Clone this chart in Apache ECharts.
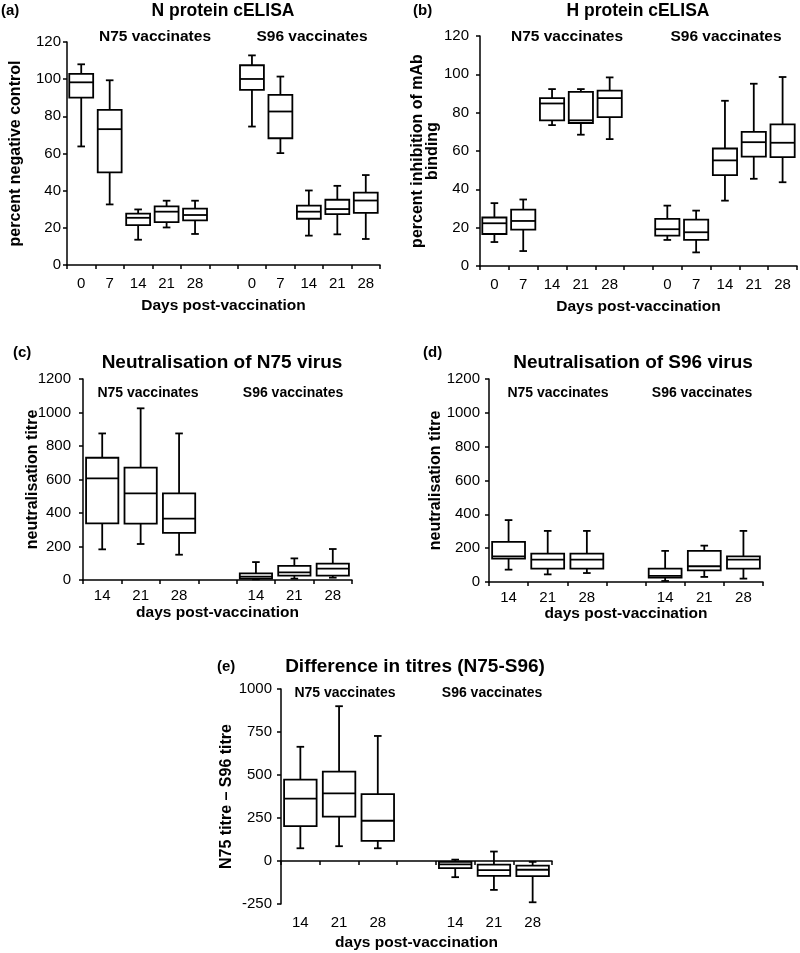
<!DOCTYPE html>
<html>
<head>
<meta charset="utf-8">
<script src="https://cdn.jsdelivr.net/npm/echarts@6/dist/echarts.min.js"></script>
<style>
html,body{margin:0;padding:0;background:#fff;}
#chart{width:800px;height:953px;}
</style>
</head>
<body>
<div id="chart"></div>
<script>
// ---- categories / tick labels ----
const daysELISA = ['0', '7', '14', '21', '28'];
const daysNeut = ['14', '21', '28'];
const groups = ['N75 vaccinates', 'S96 vaccinates'];

// ---- box values: [min, Q1, median, Q3, max] per day ----
// (a) N protein cELISA (percent negative control)
const aN75 = [[63.8, 90.1, 98.3, 102.8, 108.0], [32.6, 49.8, 73.1, 83.5, 99.4], [13.6, 21.5, 25.4, 27.6, 29.9], [20.2, 23.1, 28.7, 31.5, 34.6], [16.7, 24.0, 26.9, 30.3, 34.6]];
const aS96 = [[74.5, 94.2, 100.1, 107.5, 112.8], [60.2, 68.2, 82.6, 91.5, 101.4], [15.8, 24.9, 28.7, 31.9, 40.1], [16.5, 27.4, 30.1, 35.1, 42.6], [14.0, 28.1, 34.7, 39.0, 48.4]];
// (b) H protein cELISA (percent inhibition of mAb binding)
const bN75 = [[12.5, 16.7, 22.3, 25.3, 32.8], [7.8, 19.0, 23.5, 29.4, 34.7], [73.5, 76.0, 84.8, 87.6, 92.3], [68.5, 74.6, 76.0, 90.8, 92.3], [66.2, 77.7, 87.6, 91.5, 98.4]];
const bS96 = [[13.6, 15.9, 19.2, 24.6, 31.5], [7.1, 13.6, 17.6, 24.2, 28.9], [34.1, 47.4, 55.1, 61.3, 86.2], [45.5, 57.1, 64.6, 70.0, 95.1], [43.7, 56.8, 64.3, 73.9, 98.6]];
// (c) Neutralisation of N75 virus
const cN75 = [[183, 338, 607, 730, 875], [215, 336, 517, 671, 1025], [151, 281, 366, 517, 875]];
const cS96 = [[4, 8, 20, 40, 107], [8, 26, 46, 84, 129], [14, 26, 68, 98, 185]];
// (d) Neutralisation of S96 virus
const dN75 = [[73, 138, 152, 237, 366], [45, 79, 132, 168, 302], [53, 79, 132, 168, 302]];
const dS96 = [[6, 26, 36, 79, 184], [30, 69, 93, 184, 215], [20, 79, 132, 152, 302]];
// (e) Difference in titres (N75-S96)
const eN75 = [[74, 203, 363, 473, 664], [86, 258, 393, 520, 900], [74, 117, 234, 389, 727]];
const eS96 = [[-94, -41, -20, -5, 8], [-168, -86, -53, -21, 55], [-240, -88, -51, -27, -5]];

// ---- titles / axis names ----
const panelLetters = ['(a)', '(b)', '(c)', '(d)', '(e)'];
const panelTitles = ['N protein cELISA', 'H protein cELISA', 'Neutralisation of N75 virus', 'Neutralisation of S96 virus', 'Difference in titres (N75-S96)'];
const yNames = ['percent negative control', 'percent inhibition of mAb\nbinding', 'neutralisation titre', 'neutralisation titre', 'N75 titre \u2013 S96 titre'];
const xNames = ['Days post-vaccination', 'Days post-vaccination', 'days post-vaccination', 'days post-vaccination', 'days post-vaccination'];

const FONT = 'Liberation Sans, Arial, Helvetica, sans-serif';

function buildCats(days) {
  return [...days.map(d => 'N75|' + d), 'gap', ...days.map(d => 'S96|' + d)];
}
function buildData(n75, s96) {
  const n = n75.length;
  return [...n75.map((v, i) => [i, ...v]), ...s96.map((v, i) => [i + n + 1, ...v])];
}

function renderBox(params, api) {
  const xi = api.value(0);
  const p = [1, 2, 3, 4, 5].map(k => api.coord([xi, api.value(k)]));
  const cx = p[0][0];
  const band = api.size([1, 0])[0];
  const hw = band * 0.42, cap = 3.8;
  const [pMin, pQ1, pMed, pQ3, pMax] = p;
  const st = { stroke: '#000', lineWidth: 1.8, fill: null };
  return {
    type: 'group',
    children: [
      { type: 'line', shape: { x1: cx, y1: pMax[1], x2: cx, y2: pQ3[1] }, style: st },
      { type: 'line', shape: { x1: cx, y1: pQ1[1], x2: cx, y2: pMin[1] }, style: st },
      { type: 'line', shape: { x1: cx - cap, y1: pMax[1], x2: cx + cap, y2: pMax[1] }, style: st },
      { type: 'line', shape: { x1: cx - cap, y1: pMin[1], x2: cx + cap, y2: pMin[1] }, style: st },
      { type: 'rect', shape: { x: cx - hw, y: pQ3[1], width: 2 * hw, height: pQ1[1] - pQ3[1] }, style: { fill: '#fff', stroke: '#000', lineWidth: 1.8 } },
      { type: 'line', shape: { x1: cx - hw, y1: pMed[1], x2: cx + hw, y2: pMed[1] }, style: st }
    ]
  };
}

const panels = [
  { cats: buildCats(daysELISA), data: buildData(aN75, aS96), grid: { left: 67, top: 42, width: 313, height: 223 }, y: [0, 120, 20], yMargin: 6, yGap: 44, xMargin: 11, xGap: 33,
    letter: [1, 11], title: [223, 11, 17.5], groupsXY: [[155, 37], [312, 37]], groupFs: 15.5 },
  { cats: buildCats(daysELISA), data: buildData(bN75, bS96), grid: { left: 480, top: 36, width: 317, height: 230 }, y: [0, 120, 20], yMargin: 11, yGap: 40, xMargin: 11, xGap: 33,
    letter: [413, 11], title: [638, 11, 17.5], groupsXY: [[567, 37], [726, 37]], groupFs: 15.5 },
  { cats: buildCats(daysNeut), data: buildData(cN75, cS96), grid: { left: 83, top: 379, width: 269, height: 201 }, y: [0, 1200, 200], yMargin: 12, yGap: 43, xMargin: 8, xGap: 25,
    letter: [13, 353], title: [222, 363, 19], groupsXY: [[148, 393], [293, 393]], groupFs: 14 },
  { cats: buildCats(daysNeut), data: buildData(dN75, dS96), grid: { left: 489, top: 379, width: 274, height: 203 }, y: [0, 1200, 200], yMargin: 9, yGap: 46, xMargin: 8, xGap: 23,
    letter: [423, 353], title: [633, 363, 19], groupsXY: [[558, 393], [702, 393]], groupFs: 14 },
  { cats: buildCats(daysNeut), data: buildData(eN75, eS96), grid: { left: 281, top: 689, width: 271, height: 215 }, y: [-250, 1000, 250], yMargin: 9, yGap: 47, xMargin: 11, xGap: 31,
    letter: [217, 667], title: [415, 667, 19], groupsXY: [[345, 693], [492, 693]], groupFs: 14 }
];

const axisLineStyle = { color: '#000', width: 1.5 };
const grids = [], xAxes = [], yAxes = [], series = [], graphics = [];
const catFmt = v => (v.indexOf('|') >= 0 ? v.split('|')[1] : '');
const numFmt = v => String(v);

panels.forEach((pn, i) => {
  grids.push(Object.assign({ containLabel: false }, pn.grid));
  const isE = i === 4;
  const xBase = {
    type: 'category', gridIndex: i, data: pn.cats, boundaryGap: true, position: 'bottom',
    axisLine: { show: true, onZero: isE, lineStyle: axisLineStyle },
    axisTick: { show: true, interval: 0, length: 4, inside: false, lineStyle: axisLineStyle },
    axisLabel: { show: !isE, interval: 0, formatter: catFmt, color: '#000', fontSize: 15, fontFamily: FONT, margin: pn.xMargin },
    splitLine: { show: false },
    name: isE ? '' : xNames[i], nameLocation: 'middle', nameGap: pn.xGap,
    nameTextStyle: { color: '#000', fontWeight: 'bold', fontSize: 15.5, fontFamily: FONT }
  };
  const xIndex = xAxes.length;
  xAxes.push(xBase);
  if (isE) {
    xAxes.push({
      type: 'category', gridIndex: i, data: pn.cats, boundaryGap: true, position: 'bottom',
      axisLine: { show: false, onZero: false }, axisTick: { show: false },
      axisLabel: { show: true, interval: 0, formatter: catFmt, color: '#000', fontSize: 15, fontFamily: FONT, margin: pn.xMargin },
      splitLine: { show: false },
      name: xNames[i], nameLocation: 'middle', nameGap: pn.xGap,
      nameTextStyle: { color: '#000', fontWeight: 'bold', fontSize: 15.5, fontFamily: FONT }
    });
  }
  yAxes.push({
    type: 'value', gridIndex: i, min: pn.y[0], max: pn.y[1], interval: pn.y[2],
    axisLine: { show: true, lineStyle: axisLineStyle },
    axisTick: { show: true, length: 4, inside: false, lineStyle: axisLineStyle },
    axisLabel: { color: '#000', fontSize: 15, fontFamily: FONT, margin: pn.yMargin, formatter: numFmt },
    splitLine: { show: false },
    name: yNames[i], nameLocation: 'middle', nameGap: pn.yGap, nameRotate: 90, nameMoveOverlap: false,
    nameTextStyle: { color: '#000', fontWeight: 'bold', fontSize: 16, fontFamily: FONT, lineHeight: 15 }
  });
  series.push({
    type: 'custom', xAxisIndex: xIndex, yAxisIndex: i,
    data: pn.data, encode: { x: 0, y: [1, 2, 3, 4, 5] },
    renderItem: renderBox, silent: true, clip: false
  });
  const txt = (x, y, text, size, align) => ({
    type: 'text', x: x, y: y, silent: true,
    style: { text: text, fill: '#000', fontFamily: FONT, fontWeight: 'bold', fontSize: size, align: align, verticalAlign: 'middle' }
  });
  graphics.push(txt(pn.letter[0], pn.letter[1], panelLetters[i], 15, 'left'));
  graphics.push(txt(pn.title[0], pn.title[1], panelTitles[i], pn.title[2], 'center'));
  pn.groupsXY.forEach((g, k) => graphics.push(txt(g[0], g[1], groups[k], pn.groupFs, 'center')));
});

const chart = echarts.init(document.getElementById('chart'), null, { renderer: 'canvas' });
chart.setOption({
  backgroundColor: '#fff',
  animation: false,
  textStyle: { fontFamily: FONT },
  grid: grids, xAxis: xAxes, yAxis: yAxes, series: series, graphic: graphics
});
</script>
</body>
</html>
